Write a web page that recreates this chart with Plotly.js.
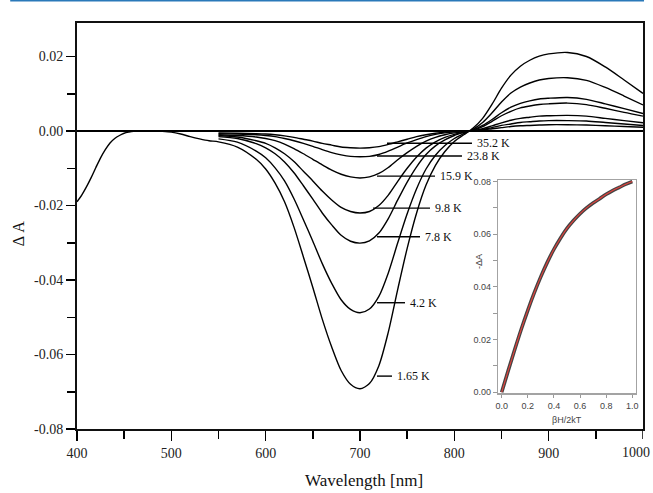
<!DOCTYPE html>
<html>
<head>
<meta charset="utf-8">
<script src="https://cdn.plot.ly/plotly-3.0.1.min.js"></script>
<style>html,body{margin:0;padding:0;background:#fff;}#chart{width:653px;height:493px;}</style>
</head>
<body>
<div id="chart"></div>
<script>
// ---- data ----
const wlLeft = [400,405,410,415,420,425,430,435,440,445,450,455,460,470,480,490,500,510,520,530,540];
const k165Left = [-0.0190,-0.0172,-0.0150,-0.0125,-0.0098,-0.0072,-0.0050,-0.0032,-0.0020,-0.0012,-0.0006,-0.0003,-0.0001,0.0000,0.0000,-0.0001,-0.0003,-0.0008,-0.0015,-0.0021,-0.0026];

const wl = [550,570,590,600,610,620,630,640,650,660,670,680,690,700,710,720,730,740,750,760,770,780,790,800,810,820,830,840,850,860,870,880,890,900,920,940,960,980,1000];

const k165 = [-0.0029,-0.0043,-0.0076,-0.0102,-0.0140,-0.0190,-0.0258,-0.0338,-0.0420,-0.0505,-0.0580,-0.0643,-0.0680,-0.0692,-0.0678,-0.0630,-0.0540,-0.0425,-0.0315,-0.0220,-0.0145,-0.0092,-0.0055,-0.0028,-0.0010,0.0008,0.0034,0.0072,0.0115,0.0150,0.0174,0.0190,0.0201,0.0207,0.0211,0.0200,0.0172,0.0137,0.0101];
const k42 = [-0.0021,-0.0030,-0.0054,-0.0072,-0.0099,-0.0134,-0.0182,-0.0238,-0.0296,-0.0356,-0.0409,-0.0453,-0.0479,-0.0488,-0.0478,-0.0444,-0.0381,-0.0300,-0.0222,-0.0155,-0.0102,-0.0065,-0.0039,-0.0020,-0.0007,0.0005,0.0023,0.0049,0.0078,0.0102,0.0118,0.0129,0.0137,0.0141,0.0143,0.0136,0.0117,0.0094,0.0070];
const k78 = [-0.0015,-0.0020,-0.0034,-0.0045,-0.0061,-0.0083,-0.0112,-0.0147,-0.0183,-0.0220,-0.0252,-0.0280,-0.0296,-0.0301,-0.0295,-0.0274,-0.0235,-0.0185,-0.0137,-0.0096,-0.0063,-0.0040,-0.0024,-0.0012,-0.0004,0.0003,0.0015,0.0031,0.0049,0.0064,0.0074,0.0081,0.0086,0.0088,0.0090,0.0085,0.0073,0.0060,0.0047];
const k98 = [-0.0012,-0.0016,-0.0026,-0.0033,-0.0045,-0.0061,-0.0082,-0.0108,-0.0134,-0.0161,-0.0185,-0.0205,-0.0216,-0.0220,-0.0216,-0.0200,-0.0172,-0.0135,-0.0100,-0.0070,-0.0046,-0.0029,-0.0017,-0.0009,-0.0003,0.0002,0.0012,0.0026,0.0041,0.0053,0.0062,0.0067,0.0071,0.0073,0.0075,0.0071,0.0061,0.0050,0.0040];
const k159 = [-0.0010,-0.0012,-0.0016,-0.0020,-0.0026,-0.0035,-0.0047,-0.0061,-0.0076,-0.0091,-0.0105,-0.0116,-0.0123,-0.0126,-0.0123,-0.0114,-0.0098,-0.0077,-0.0058,-0.0041,-0.0027,-0.0017,-0.0010,-0.0005,-0.0002,0.0001,0.0006,0.0014,0.0022,0.0029,0.0034,0.0037,0.0040,0.0041,0.0042,0.0040,0.0034,0.0028,0.0022];
const k238 = [-0.0007,-0.0008,-0.0010,-0.0012,-0.0015,-0.0020,-0.0026,-0.0033,-0.0041,-0.0050,-0.0058,-0.0064,-0.0068,-0.0069,-0.0068,-0.0063,-0.0054,-0.0043,-0.0032,-0.0023,-0.0015,-0.0009,-0.0005,-0.0002,0.0000,0.0001,0.0004,0.0009,0.0015,0.0019,0.0023,0.0025,0.0027,0.0028,0.0028,0.0027,0.0023,0.0019,0.0015];
const k352 = [-0.0005,-0.0006,-0.0007,-0.0008,-0.0010,-0.0013,-0.0017,-0.0022,-0.0027,-0.0033,-0.0038,-0.0043,-0.0045,-0.0046,-0.0045,-0.0042,-0.0036,-0.0029,-0.0022,-0.0015,-0.0010,-0.0006,-0.0003,-0.0001,0.0000,0.0001,0.0003,0.0006,0.0009,0.0012,0.0014,0.0015,0.0016,0.0017,0.0017,0.0016,0.0014,0.0012,0.0010];

// temperature labels and their leader lines: [text, lineStart, lineEnd, level]
const labelText = ['35.2 K','23.8 K','15.9 K','9.8 K','7.8 K','4.2 K','1.65 K'];
const labelX0 = [728.6, 718.0, 718.0, 713.8, 718.0, 718.0, 718.0];
const labelX1 = [818.7, 808.1, 779.5, 774.2, 763.6, 747.7, 733.9];
const labelY  = [-0.0033, -0.0067, -0.0121, -0.0207, -0.0284, -0.0461, -0.0658];

// inset: saturation curve
const insetX = [0,0.05,0.1,0.15,0.2,0.25,0.3,0.35,0.4,0.45,0.5,0.55,0.6,0.65,0.7,0.75,0.8,0.85,0.9,0.95,1.0];
const insetY = [0,0.0082,0.0162,0.0239,0.0311,0.0378,0.0439,0.0494,0.0543,0.0585,0.0622,0.0652,0.0678,0.0700,0.0719,0.0735,0.0752,0.0766,0.0778,0.0790,0.0800];

const xTicks = [400,500,600,700,800,900];
const xLastTick = 1000;
const yTickVals = [-0.08,-0.06,-0.04,-0.02,0.00,0.02];
const yTickText = ['-0.08','-0.06','-0.04','-0.02','0.00','0.02'];
const yMinorVals = [-0.07,-0.05,-0.03,-0.01,0.01];
const xMinorVals = [450,550,650,750,850,950];
const inYTickVals = [0,0.02,0.04,0.06,0.08];
const inYTickText = ['0.00','0.02','0.04','0.06','0.08'];
const inYMinor = [0.01,0.03,0.05,0.07];
const inXTickVals = [0,0.2,0.4,0.6,0.8,1.0];
const inXTickText = ['0.0','0.2','0.4','0.6','0.8','1.0'];

// ---- build ----
const serif = 'Liberation Serif, Times New Roman, serif';
const sans = 'Liberation Sans, Arial, sans-serif';
const lineStyle = {color:'#000', width:1.4, shape:'spline', smoothing:0.8};

const series = [k42, k78, k98, k159, k238, k352];
const traces = [{
  x: wlLeft.concat(wl), y: k165Left.concat(k165), mode:'lines', line: lineStyle, hoverinfo:'skip'
}];
series.forEach(s => traces.push({x: wl, y: s, mode:'lines', line: lineStyle, hoverinfo:'skip'}));

traces.push({x: insetX, y: insetY, xaxis:'x2', yaxis:'y2', mode:'lines',
  line:{color:'rgba(35,35,35,0.85)', width:3.6, shape:'spline'}, hoverinfo:'skip'});
traces.push({x: insetX, y: insetY, xaxis:'x2', yaxis:'y2', mode:'lines',
  line:{color:'#e5413c', width:1.1, shape:'spline'}, hoverinfo:'skip'});

const shapes = [];
const annotations = [];
labelText.forEach((t,i) => {
  shapes.push({type:'line', xref:'x', yref:'y', x0:labelX0[i], x1:labelX1[i], y0:labelY[i], y1:labelY[i],
    line:{color:'#000', width:1.4}});
  annotations.push({xref:'x', yref:'y', x:labelX1[i], y:labelY[i], text:t, showarrow:false,
    xanchor:'left', yanchor:'middle', xshift:3, font:{family:serif, size:12, color:'#111'}});
});
// blue rule at the very top of the page
shapes.push({type:'line', xref:'paper', yref:'paper', x0:-0.118, x1:1.0018, y0:1.0554, y1:1.0554,
  line:{color:'#2a79b9', width:2}});
// major tick at 1000 (its label is placed as an annotation so it stays inside the page)
shapes.push({type:'line', xref:'x', yref:'paper', x0:xLastTick, x1:xLastTick, y0:0, y1:-0.0246,
  line:{color:'#000', width:1.5}});
annotations.push({xref:'x', yref:'paper', x:xLastTick, y:-0.0246, yshift:-4, text:String(xLastTick), showarrow:false,
  xanchor:'right', yanchor:'top', xshift:9, font:{family:serif, size:14, color:'#222'}});

annotations.push({xref:'paper', yref:'paper', x:0.5068, y:-0.128, text:'Wavelength [nm]', showarrow:false,
  xanchor:'center', yanchor:'middle', font:{family:serif, size:17, color:'#111'}});
annotations.push({xref:'paper', yref:'paper', x:-0.104, y:0.48, text:'Δ A', showarrow:false, textangle:-90,
  xanchor:'center', yanchor:'middle', font:{family:serif, size:16, color:'#111'}});
annotations.push({xref:'paper', yref:'paper', x:(566.7-77)/566, y:(429-419.5)/406, text:'βH/2kT', showarrow:false,
  xanchor:'center', yanchor:'middle', font:{family:sans, size:9, color:'#444'}});
annotations.push({xref:'paper', yref:'paper', x:(479-77)/566, y:(429-262)/406, text:'-ΔA', showarrow:false, textangle:-90,
  xanchor:'center', yanchor:'middle', font:{family:sans, size:9, color:'#444'}});

const layout = {
  width:653, height:493,
  margin:{l:77, r:10, t:23, b:64},
  paper_bgcolor:'#fff', plot_bgcolor:'#fff',
  showlegend:false,
  xaxis:{
    range:[400,1000], tickmode:'array', tickvals:xTicks, ticktext:xTicks.map(String),
    ticks:'outside', ticklen:10, tickwidth:1.5, tickcolor:'#000',
    minor:{tickmode:'array', tickvals:xMinorVals, ticks:'outside', ticklen:8, tickwidth:1.5, tickcolor:'#000'},
    showline:true, linecolor:'#111', linewidth:2, mirror:true,
    showgrid:false, zeroline:false,
    tickfont:{family:serif, size:14, color:'#222'}
  },
  yaxis:{
    range:[-0.08, 0.029], tickmode:'array', tickvals:yTickVals, ticktext:yTickText,
    ticks:'outside', ticklen:9, tickwidth:1.5, tickcolor:'#000',
    minor:{tickmode:'array', tickvals:yMinorVals, ticks:'outside', ticklen:8, tickwidth:1.5, tickcolor:'#000'},
    showline:true, linecolor:'#111', linewidth:2, mirror:true,
    showgrid:false, zeroline:true, zerolinecolor:'#000', zerolinewidth:1.6,
    tickfont:{family:serif, size:14, color:'#222'}
  },
  xaxis2:{
    domain:[0.7443, 0.9871], anchor:'y2', range:[-0.026, 1.026],
    tickmode:'array', tickvals:inXTickVals, ticktext:inXTickText,
    ticks:'outside', ticklen:3, tickcolor:'#999', tickwidth:1,
    showline:true, linecolor:'#a3a3a3', linewidth:1.5, mirror:true,
    showgrid:false, zeroline:false,
    tickfont:{family:sans, size:9, color:'#444'}
  },
  yaxis2:{
    domain:[0.088, 0.6133], anchor:'x2', range:[-0.0004, 0.0806],
    tickmode:'array', tickvals:inYTickVals, ticktext:inYTickText,
    ticks:'outside', ticklen:4, tickcolor:'#999', tickwidth:1,
    minor:{tickmode:'array', tickvals:inYMinor, ticks:'outside', ticklen:4, tickcolor:'#999', tickwidth:1},
    showline:true, linecolor:'#a3a3a3', linewidth:1.5, mirror:true,
    showgrid:false, zeroline:false,
    tickfont:{family:sans, size:9, color:'#444'}
  },
  shapes: shapes,
  annotations: annotations
};

Plotly.newPlot('chart', traces, layout, {displayModeBar:false, staticPlot:true});
</script>
</body>
</html>
